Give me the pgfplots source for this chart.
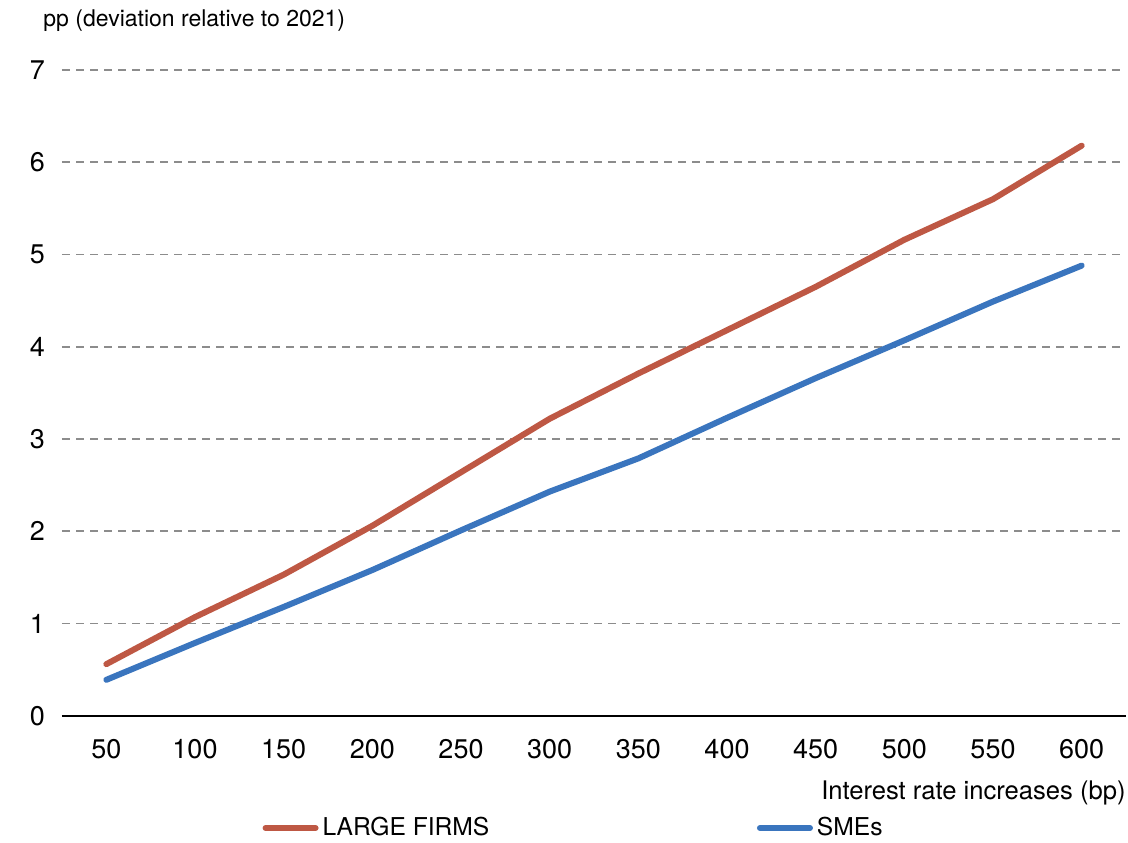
\documentclass[border=0pt]{standalone}
\usepackage{fontspec}
\setmainfont{TeX Gyre Heros}
\usepackage{pgfplots}
\pgfplotsset{compat=1.18}

\definecolor{largeRed}{RGB}{190,88,68}
\definecolor{smeBlue}{RGB}{58,117,190}
\definecolor{gridGray}{RGB}{140,140,140}

\begin{document}
\begin{tikzpicture}
\useasboundingbox (-31pt,-63.1pt) rectangle (533pt,357.9pt);
\begin{axis}[
  at={(0,0)}, anchor=south west,
  scale only axis,
  width=532pt, height=322.9pt,
  clip=false,
  xmin=-0.5, xmax=11.5,
  ymin=0, ymax=7,
  xtick={0,...,11},
  xticklabels={50,100,150,200,250,300,350,400,450,500,550,600},
  ytick={0,1,...,7},
  /pgf/number format/assume math mode=true,
  tick label style={font=\fontsize{13.5}{15}\selectfont},
  xticklabel style={yshift=-8pt},
  yticklabel style={xshift=-5pt},
  major tick length=0pt,
  axis x line*=bottom,
  axis y line*=left,
  x axis line style={black, line width=1pt},
  y axis line style={draw=none},
  ymajorgrids,
  grid style={gridGray, line width=0.9pt, dash pattern=on 4pt off 3pt},
  xlabel={Interest rate increases (bp)},
  xlabel style={at={(axis description cs:1,0)}, anchor=base east,
    yshift=-42pt, inner sep=0pt, font=\fontsize{12.8}{15}\selectfont},
  legend columns=2,
  legend cell align=left,
  legend style={at={(0.1885,-0.1737)}, anchor=west, draw=none, fill=none,
    inner sep=0pt, outer sep=0pt,
    nodes={inner sep=0pt, font=\fontsize{12.3}{14}\selectfont},
    /tikz/every odd column/.append style={column sep=2pt},
    /tikz/every even column/.append style={column sep=0pt}},
  legend image code/.code={\draw[#1, line cap=round] (1.5pt,0pt) -- (26.5pt,0pt);},
]
\addplot[largeRed, line width=3pt, line join=round, line cap=round] coordinates {
  (0,0.56) (1,1.07) (2,1.53) (3,2.06) (4,2.64) (5,3.22)
  (6,3.71) (7,4.18) (8,4.65) (9,5.16) (10,5.60) (11,6.18)
};
\addlegendentry{\makebox[217.2pt][l]{LARGE FIRMS}}
\addplot[smeBlue, line width=3pt, line join=round, line cap=round] coordinates {
  (0,0.39) (1,0.79) (2,1.18) (3,1.58) (4,2.01) (5,2.43)
  (6,2.79) (7,3.23) (8,3.66) (9,4.07) (10,4.49) (11,4.88)
};
\addlegendentry{SMEs}
\node[anchor=base west, inner sep=0pt, font=\fontsize{11.5}{13}\selectfont]
  at (axis description cs:0,1) [xshift=-9.5pt, yshift=22pt]
  {pp (deviation relative to 2021)};
\end{axis}
\end{tikzpicture}
\end{document}
